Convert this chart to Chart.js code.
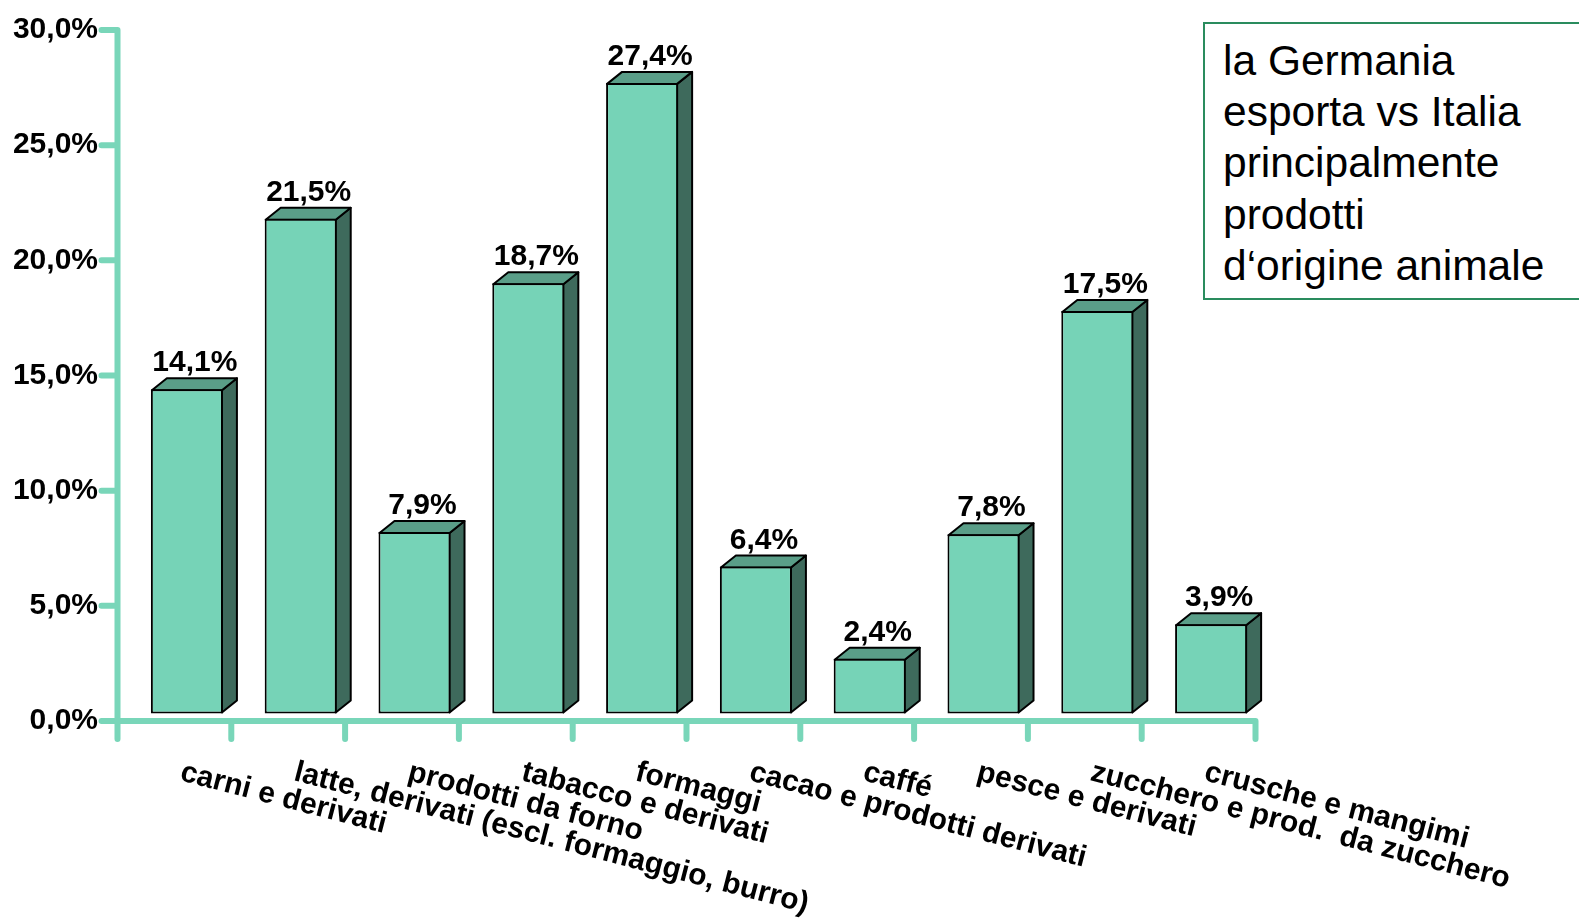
<!DOCTYPE html>
<html>
<head>
<meta charset="utf-8">
<script src="https://cdn.jsdelivr.net/npm/chart.js@4.4.1/dist/chart.umd.min.js"></script>
<style>
  html, body { margin: 0; padding: 0; background: #fff; overflow: hidden; }
  #wrap { position: relative; width: 1579px; height: 920px; }
  #grafico { display: block; }
  #nota {
    position: absolute; left: 1203px; top: 22px;
    width: 420px; height: 278px; box-sizing: border-box;
    border: 2px solid #2a8c5e; background: #fff;
    padding: 11px 0 0 18px;
    font-family: "Liberation Sans", Arial, sans-serif;
    font-size: 42.5px; line-height: 51.2px; color: #000;
  }
</style>
</head>
<body>
<div id="wrap">
  <canvas id="grafico" width="1579" height="920"></canvas>
  <div id="nota">la Germania<br>esporta vs Italia<br>principalmente<br>prodotti<br>d‘origine animale</div>
</div>
<script>
// --- DATI ---
const categorie = [
  'carni e derivati',
  'latte, derivati (escl. formaggio, burro)',
  'prodotti da forno',
  'tabacco e derivati',
  'formaggi',
  'cacao e prodotti derivati',
  'caffé',
  'pesce e derivati',
  'zucchero e prod.  da zucchero',
  'crusche e mangimi'
];
const quote = [14.1, 21.5, 7.9, 18.7, 27.4, 6.4, 2.4, 7.8, 17.5, 3.9];
const yMin = 0;
const yMax = 30;
const yPasso = 5;

// --- STILE ---
const FONT = '"Liberation Sans", Arial, sans-serif';
const VERDE = '#76d3b7';
const VERDE_TOP = '#5a9e88';
const VERDE_LATO = '#3e6a5c';
const VERDE_ASSE = '#79d6b9';
const PROF_X = 15, PROF_Y = 12;     // profondità 3D delle barre
const ASSE_DX = -12.5, ASSE_DY = 7; // assi sul piano frontale

const virgola = (v, dec) => v.toFixed(dec).replace('.', ',');

const barre3d = {
  id: 'barre3d',
  beforeDatasetsDraw(chart) {
    const ctx = chart.ctx;
    const xs = chart.scales.x;
    const ys = chart.scales.y;
    const meta = chart.getDatasetMeta(0);
    const passo = xs.getPixelForValue(1) - xs.getPixelForValue(0);
    const ox = chart.chartArea.left + ASSE_DX;
    const oy = ys.getPixelForValue(0) + ASSE_DY;
    const fine = xs.getPixelForValue(categorie.length - 1) + passo / 2 + ASSE_DX;

    // assi
    ctx.save();
    ctx.strokeStyle = VERDE_ASSE;
    ctx.lineWidth = 6;
    ctx.lineCap = 'round';
    ctx.beginPath();
    ctx.moveTo(ox, ys.getPixelForValue(yMax) + ASSE_DY);
    ctx.lineTo(ox, oy);
    ctx.moveTo(ox - 16, oy);
    ctx.lineTo(fine, oy);
    for (let v = yPasso; v <= yMax; v += yPasso) {
      const py = ys.getPixelForValue(v) + ASSE_DY;
      ctx.moveTo(ox - 16, py);
      ctx.lineTo(ox, py);
    }
    for (let i = 0; i <= categorie.length; i++) {
      const px = xs.getPixelForValue(0) - passo / 2 + i * passo + ASSE_DX;
      ctx.moveTo(px, oy);
      ctx.lineTo(px, oy + 18);
    }
    ctx.stroke();
    ctx.restore();

    // facce laterali e superiori
    meta.data.forEach(bar => {
      const { x, y, base, width } = bar.getProps(['x', 'y', 'base', 'width'], true);
      const l = x - width / 2 + 1, r = x + width / 2 - 1;
      ctx.save();
      ctx.lineWidth = 2;
      ctx.strokeStyle = '#000';
      ctx.lineJoin = 'round';
      ctx.beginPath();
      ctx.moveTo(r, y + 1);
      ctx.lineTo(r + PROF_X, y + 1 - PROF_Y);
      ctx.lineTo(r + PROF_X, base - 1 - PROF_Y);
      ctx.lineTo(r, base - 1);
      ctx.closePath();
      ctx.fillStyle = VERDE_LATO;
      ctx.fill();
      ctx.stroke();
      ctx.beginPath();
      ctx.moveTo(l, y + 1);
      ctx.lineTo(l + PROF_X, y + 1 - PROF_Y);
      ctx.lineTo(r + PROF_X, y + 1 - PROF_Y);
      ctx.lineTo(r, y + 1);
      ctx.closePath();
      ctx.fillStyle = VERDE_TOP;
      ctx.fill();
      ctx.stroke();
      ctx.restore();
    });
  },
  afterDatasetsDraw(chart) {
    const ctx = chart.ctx;
    const xs = chart.scales.x;
    const ys = chart.scales.y;
    const meta = chart.getDatasetMeta(0);

    // etichette valori
    ctx.save();
    ctx.fillStyle = '#000';
    ctx.font = 'bold 30px ' + FONT;
    ctx.textAlign = 'center';
    ctx.textBaseline = 'alphabetic';
    meta.data.forEach((bar, i) => {
      const { x, y } = bar.getProps(['x', 'y'], true);
      ctx.fillText(virgola(quote[i], 1) + '%', x + 8, y - PROF_Y - 6);
    });
    ctx.restore();

    // etichette categorie ruotate
    ctx.save();
    ctx.fillStyle = '#000';
    ctx.font = 'bold 30px ' + FONT;
    ctx.textAlign = 'left';
    ctx.textBaseline = 'alphabetic';
    const by = ys.getPixelForValue(0) + 66;
    categorie.forEach((c, i) => {
      const px = xs.getPixelForValue(i) - 8;
      ctx.save();
      ctx.translate(px, by);
      ctx.rotate(14.5 * Math.PI / 180);
      ctx.fillText(c, 0, 0);
      ctx.restore();
    });
    ctx.restore();
  }
};

new Chart(document.getElementById('grafico'), {
  type: 'bar',
  data: {
    labels: categorie,
    datasets: [{
      data: quote,
      backgroundColor: VERDE,
      borderColor: '#000',
      borderWidth: 2,
      borderSkipped: false,
      barPercentage: 0.633,
      categoryPercentage: 1
    }]
  },
  options: {
    responsive: false,
    animation: false,
    layout: { padding: { top: 23, right: 311, left: 0, bottom: 0 } },
    plugins: { legend: { display: false }, tooltip: { enabled: false } },
    scales: {
      x: {
        grid: { display: false },
        border: { display: false },
        ticks: { display: false },
        afterFit: s => { s.height = 206; }
      },
      y: {
        min: yMin,
        max: yMax,
        grid: {
          display: true,
          drawOnChartArea: false,
          drawTicks: true,
          tickLength: 32,
          tickColor: 'rgba(0,0,0,0)'
        },
        border: { display: false },
        ticks: {
          stepSize: yPasso,
          padding: 0,
          labelOffset: ASSE_DY,
          color: '#000',
          font: { family: FONT, size: 30, weight: 'bold' },
          callback: v => virgola(v, 1) + '%'
        },
        afterFit: s => { s.width = 130; }
      }
    }
  },
  plugins: [barre3d]
});
</script>
</body>
</html>
